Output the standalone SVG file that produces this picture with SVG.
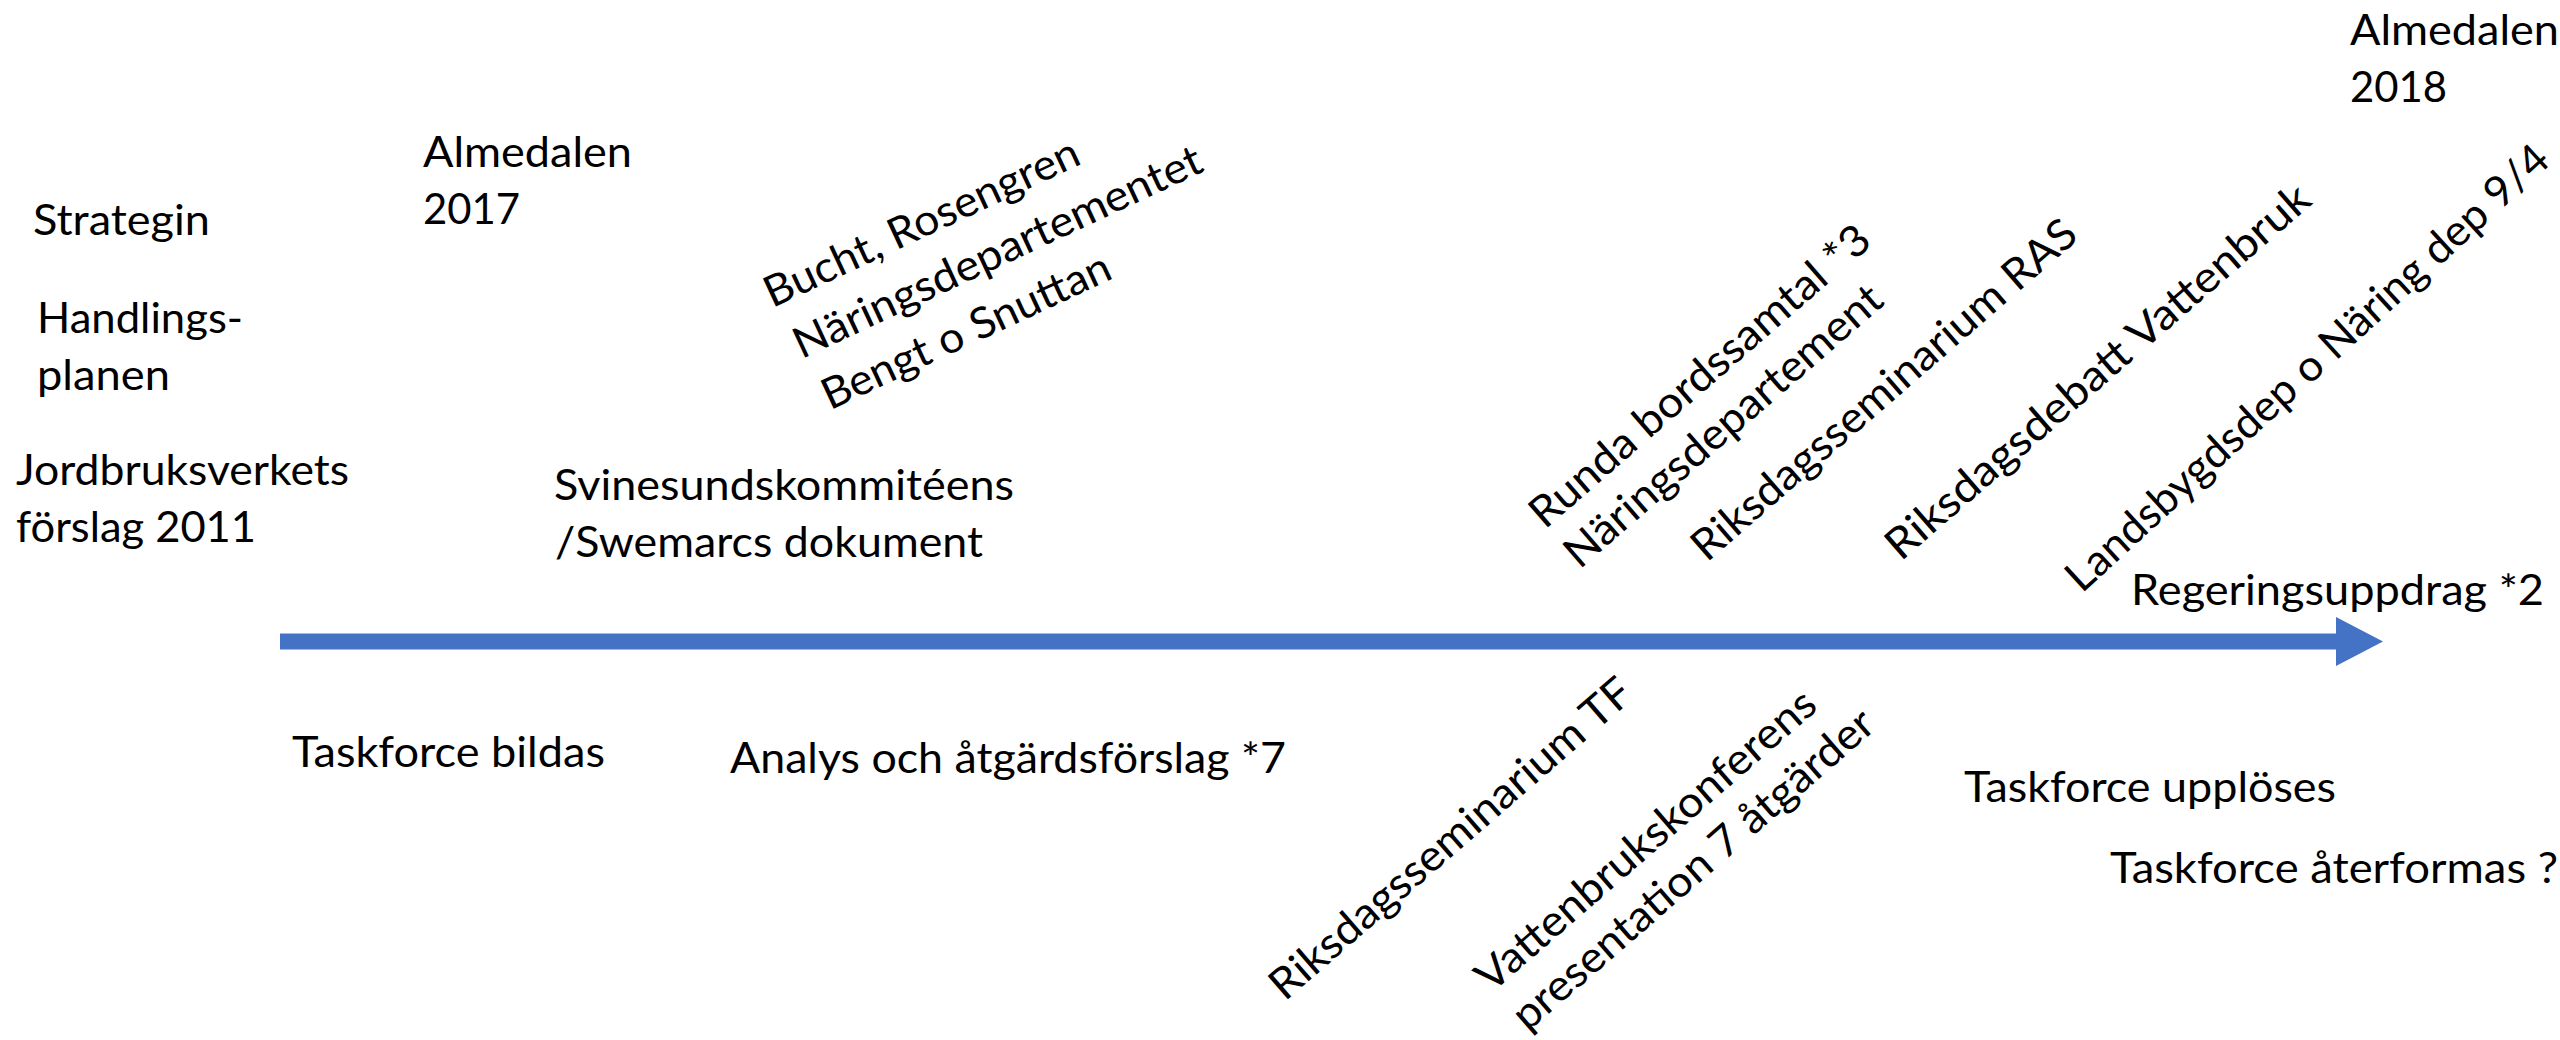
<svg xmlns="http://www.w3.org/2000/svg" width="2560" height="1040" viewBox="0 0 2560 1040">
<style>
.t{font-family:Lato,"Liberation Sans",Arial,sans-serif;font-size:43px;fill:#000}
.ax{stroke:#4472C4;stroke-width:16;fill:none}
.ah{fill:#4472C4}
</style>
<rect width="2560" height="1040" fill="#fff"/>
<g id="connectors">
<line class="ax" x1="280" y1="641.5" x2="2338" y2="641.5"/>
<polygon class="ah" points="2336,617 2383,641.5 2336,666"/>
</g>
<g id="n-strategin"><text class="t" x="33" y="235" textLength="177" lengthAdjust="spacingAndGlyphs">Strategin</text></g>
<g id="n-handlingsplanen">
<text class="t" x="37" y="333" textLength="206" lengthAdjust="spacingAndGlyphs">Handlings-</text>
<text class="t" x="37" y="390" textLength="133" lengthAdjust="spacingAndGlyphs">planen</text>
</g>
<g id="n-jordbruksverkets">
<text class="t" x="16" y="485" textLength="333" lengthAdjust="spacingAndGlyphs">Jordbruksverkets</text>
<text class="t" x="16" y="542" textLength="240" lengthAdjust="spacingAndGlyphs">förslag 2011</text>
</g>
<g id="n-almedalen2017">
<text class="t" x="423" y="167" textLength="209" lengthAdjust="spacingAndGlyphs">Almedalen</text>
<text class="t" x="423" y="224" textLength="97" lengthAdjust="spacingAndGlyphs">2017</text>
</g>
<g id="n-svinesund">
<text class="t" x="554" y="500" textLength="460" lengthAdjust="spacingAndGlyphs">Svinesundskommitéens</text>
<text class="t" x="555" y="557" textLength="428" lengthAdjust="spacingAndGlyphs">/Swemarcs dokument</text>
</g>
<g id="n-bucht" transform="translate(775,307) rotate(-25)">
<text class="t" x="-3" y="0" textLength="343" lengthAdjust="spacingAndGlyphs">Bucht, Rosengren</text>
<text class="t" x="2" y="58.5" textLength="446" lengthAdjust="spacingAndGlyphs">Näringsdepartementet</text>
<text class="t" x="6" y="117" textLength="314" lengthAdjust="spacingAndGlyphs">Bengt o Snuttan</text>
</g>
<g id="n-runda" transform="translate(1547,528) rotate(-41)">
<text class="t" x="-3" y="0" textLength="436" lengthAdjust="spacingAndGlyphs">Runda bordssamtal *3</text>
<text class="t" x="-3" y="53" textLength="406" lengthAdjust="spacingAndGlyphs">Näringsdepartement</text>
</g>
<g id="n-riksras" transform="translate(1709,561) rotate(-41)">
<text class="t" x="-3" y="0" textLength="495" lengthAdjust="spacingAndGlyphs">Riksdagsseminarium RAS</text>
</g>
<g id="n-riksdebatt" transform="translate(1903,560) rotate(-41)">
<text class="t" x="-3" y="0" textLength="547" lengthAdjust="spacingAndGlyphs">Riksdagsdebatt Vattenbruk</text>
</g>
<g id="n-landsbygd" transform="translate(2084,592) rotate(-42.5)">
<text class="t" x="-3" y="0" textLength="638" lengthAdjust="spacingAndGlyphs">Landsbygdsdep o Näring dep 9/4</text>
</g>
<g id="n-almedalen2018">
<text class="t" x="2350" y="45" textLength="209" lengthAdjust="spacingAndGlyphs">Almedalen</text>
<text class="t" x="2350" y="102" textLength="97" lengthAdjust="spacingAndGlyphs">2018</text>
</g>
<g id="n-regeringsuppdrag"><text class="t" x="2131" y="605" textLength="413" lengthAdjust="spacingAndGlyphs">Regeringsuppdrag *2</text></g>
<g id="n-taskforce-bildas"><text class="t" x="292" y="767" textLength="313" lengthAdjust="spacingAndGlyphs">Taskforce bildas</text></g>
<g id="n-analys"><text class="t" x="730" y="773" textLength="556" lengthAdjust="spacingAndGlyphs">Analys och åtgärdsförslag *7</text></g>
<g id="n-rikstf" transform="translate(1287,1000) rotate(-41)">
<text class="t" x="-3" y="0" textLength="465" lengthAdjust="spacingAndGlyphs">Riksdagsseminarium TF</text>
</g>
<g id="n-vattenbruk" transform="translate(1492,993) rotate(-41)">
<text class="t" x="-1" y="0" textLength="435" lengthAdjust="spacingAndGlyphs">Vattenbrukskonferens</text>
<text class="t" x="1" y="53" textLength="464" lengthAdjust="spacingAndGlyphs">presentation 7 åtgärder</text>
</g>
<g id="n-upploses"><text class="t" x="1964" y="802" textLength="372" lengthAdjust="spacingAndGlyphs">Taskforce upplöses</text></g>
<g id="n-aterformas"><text class="t" x="2110" y="883" textLength="448" lengthAdjust="spacingAndGlyphs">Taskforce återformas ?</text></g>
</svg>
